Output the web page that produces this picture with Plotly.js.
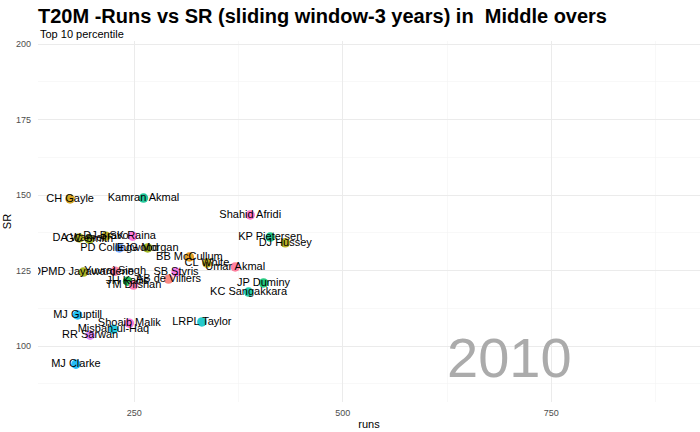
<!DOCTYPE html>
<html>
<head>
<meta charset="utf-8">
<script src="https://cdn.plot.ly/plotly-3.0.1.min.js"></script>
<style>html,body{margin:0;padding:0;background:#fff;}#chart{width:700px;height:432px;}</style>
</head>
<body>
<div id="chart"></div>
<script>
// Data (year 2010 frame)
var players = ["CH Gayle","Kamran Akmal","Shahid Afridi","KP Pietersen","DJ Hussey","Umar Akmal","CL White","BB McCullum","JP Duminy","KC Sangakkara","SB Styris","AB de Villiers","JH Kallis","TM Dilshan","Yuvraj Singh","DPMD Jayawardene","DA Warner","GC Smith","DJ Bravo","SK Raina","PD Collingwood","EJG Morgan","MJ Guptill","Shoaib Malik","Misbah-ul-Haq","RR Sarwan","LRPL Taylor","MJ Clarke"];
var runs = [173, 261, 389, 413, 431, 371, 337, 316, 405, 387, 300, 291, 242, 249, 227, 189, 184, 196, 216, 248, 232, 266, 182, 244, 225, 197, 331, 180];
var sr = [148.7, 149.0, 143.4, 136.1, 134.2, 126.2, 127.5, 129.5, 120.9, 117.9, 124.5, 122.2, 121.5, 120.2, 124.8, 124.5, 135.8, 135.4, 136.4, 136.4, 132.5, 132.5, 110.3, 107.6, 105.6, 103.6, 108.0, 94.0];
var yearLabel = "2010";
var xTicks = [250, 500, 750];
var yTicks = [100, 125, 150, 175, 200];

// styling (colours per point, ggplot hue-like)
var pointColors = ["#CD9600","#00C08B","#FF61C3","#00BF7D","#ABA300","#FF6C91","#B79F00","#DE8C00","#00BE67","#00C19A","#F564E3","#F8766D","#00BA38","#FF65AC","#FF6A98","#9CA700","#A3A500","#8EAB00","#B3A000","#FB61D7","#619CFF","#8FAA00","#00B4EF","#FD61D1","#00BCD8","#DB72FB","#00BFC4","#00B0F6"];

var FONT = "'Liberation Sans', Arial, Helvetica, sans-serif";

var traces = [
  {
    type: "scatter", mode: "markers",
    x: runs, y: sr,
    marker: {color: pointColors, size: 9.5, opacity: 0.85, line: {width: 0}},
    hoverinfo: "skip", showlegend: false
  },
  {
    type: "scatter", mode: "text",
    x: runs, y: sr, text: players,
    textposition: "middle center",
    textfont: {family: FONT, size: 11, color: "#000000"},
    cliponaxis: true,
    hoverinfo: "skip", showlegend: false
  }
];

var layout = {
  width: 700, height: 432,
  margin: {l: 38, r: 0, t: 41, b: 30, pad: 0},
  paper_bgcolor: "#ffffff", plot_bgcolor: "#ffffff",
  font: {family: FONT, color: "#000000"},
  title: {
    text: "<b>T20M -Runs vs SR (sliding window-3 years) in  Middle overs</b>",
    x: 38/700, xanchor: "left", xref: "container",
    y: 1 - 16/432, yanchor: "middle", yref: "container",
    font: {family: FONT, size: 20, color: "#000000"}
  },
  xaxis: {
    range: [134.5, 928.3],
    tickvals: xTicks, ticktext: xTicks.map(String),
    showgrid: true, gridcolor: "#EBEBEB", gridwidth: 1,
    minor: {tickvals: [125, 375, 625, 875], showgrid: true, gridcolor: "#F3F3F3", gridwidth: 0.6},
    zeroline: false, showline: false, ticks: "",
    ticklabelstandoff: 4,
    tickfont: {family: FONT, size: 9, color: "#4D4D4D"},
    title: {text: "runs", font: {family: FONT, size: 11, color: "#000000"}, standoff: 3},
    automargin: false
  },
  yaxis: {
    range: [81.5, 201],
    tickvals: yTicks, ticktext: yTicks.map(String),
    showgrid: true, gridcolor: "#EBEBEB", gridwidth: 1,
    minor: {tickvals: [87.5, 112.5, 137.5, 162.5, 187.5], showgrid: true, gridcolor: "#F3F3F3", gridwidth: 0.6},
    zeroline: false, showline: false, ticks: "",
    ticklabelstandoff: 6,
    tickfont: {family: FONT, size: 9, color: "#4D4D4D"},
    title: {text: "SR", font: {family: FONT, size: 11, color: "#000000"}, standoff: 2},
    automargin: false
  },
  annotations: [
    {
      text: "Top 10 percentile", xref: "paper", yref: "paper",
      x: 0, xanchor: "left", y: (402 - 34) / 361, yanchor: "middle",
      showarrow: false, font: {family: FONT, size: 11, color: "#000000"}
    },
    {
      text: yearLabel, xref: "paper", yref: "paper",
      x: (510 - 38) / 662, xanchor: "center", y: (402 - 357) / 361, yanchor: "middle",
      showarrow: false, font: {family: FONT, size: 56, color: "#ABABAB"}
    }
  ]
};

Plotly.newPlot("chart", traces, layout, {displayModeBar: false, staticPlot: true});
</script>
</body>
</html>
